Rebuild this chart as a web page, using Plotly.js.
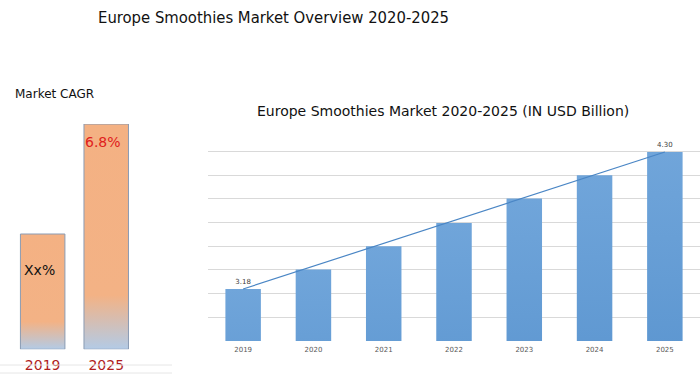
<!DOCTYPE html>
<html>
<head>
<meta charset="utf-8">
<script src="https://cdn.plot.ly/plotly-3.0.1.min.js"></script>
<style>
html,body{margin:0;padding:0;background:#fff;}
#chart{width:700px;height:376px;}
</style>
</head>
<body>
<div id="chart"></div>
<script>
// ---- data ----
const years = ['2019', '2020', '2021', '2022', '2023', '2024', '2025'];
const marketValues = [3.18, 3.34, 3.53, 3.72, 3.92, 4.11, 4.30];
const cagrYears = ['2019', '2025'];
const cagrValues = [3.48, 6.8];
const cagrLabels = ['Xx%', '6.8%'];
const cagrLabelColors = ['#111111', '#e0201c'];

const mainTitle = 'Europe Smoothies Market Overview 2020-2025';
const subTitle = 'Europe Smoothies Market 2020-2025 (IN USD Billion)';
const cagrTitle = 'Market CAGR';

const last = marketValues.length - 1;
const barLabels = marketValues.map((v, i) => (i === 0 || i === last) ? v.toFixed(2) : '');

const FONT = 'DejaVu Sans, Liberation Sans, sans-serif';
const NARROW = 'DejaVu Sans Condensed, DejaVu Sans, sans-serif';

const traces = [
  {
    type: 'bar', x: cagrYears, y: cagrValues, xaxis: 'x', yaxis: 'y',
    width: 0.7,
    marker: {color: '#f4b183', line: {color: '#8a9bb3', width: 1}},
    hoverinfo: 'skip', showlegend: false
  },
  {
    type: 'bar', x: years, y: marketValues, xaxis: 'x2', yaxis: 'y2',
    width: 0.505,
    marker: {color: '#5893d0', line: {width: 0}},
    text: barLabels, textposition: 'outside', cliponaxis: false,
    textfont: {family: FONT, size: 7, color: '#404040'},
    hoverinfo: 'skip', showlegend: false
  },
  {
    type: 'scatter', mode: 'lines', xaxis: 'x2', yaxis: 'y2',
    x: [years[0], years[last]], y: [marketValues[0], marketValues[last]],
    line: {color: '#4a86c5', width: 1.2},
    hoverinfo: 'skip', showlegend: false
  }
];

const yBase = 2.755;
const pxUnit = 0.008175;

const annotations = [
  {text: mainTitle, xref: 'paper', yref: 'paper', x: 273/700, y: 1 - 18/376,
   xanchor: 'center', yanchor: 'middle', showarrow: false,
   font: {family: NARROW, size: 16.5, color: '#111111'}},
  {text: subTitle, xref: 'paper', yref: 'paper', x: 443/700, y: 1 - 111/376,
   xanchor: 'center', yanchor: 'middle', showarrow: false,
   font: {family: FONT, size: 14, color: '#111111'}},
  {text: cagrTitle, xref: 'paper', yref: 'paper', x: 13/700, y: 1 - 94/376,
   xanchor: 'left', yanchor: 'middle', showarrow: false,
   font: {family: FONT, size: 12, color: '#111111'}},
];
cagrYears.forEach((yr, i) => {
  annotations.push({
    text: cagrLabels[i], xref: 'x', yref: 'y', x: i, y: cagrValues[i],
    xanchor: 'center', yanchor: 'top', yshift: i === 0 ? -26 : -8, xshift: -3,
    showarrow: false,
    font: {family: FONT, size: 14, color: cagrLabelColors[i]}
  });
});

const layout = {
  width: 700, height: 376,
  margin: {l: 0, r: 0, t: 0, b: 0},
  paper_bgcolor: '#ffffff', plot_bgcolor: 'rgba(0,0,0,0)',
  font: {family: FONT},
  xaxis: {domain: [10.9/700, 138/700], type: 'category', range: [-0.5, 1.5], autorange: false,
          showgrid: false, zeroline: false, ticklabelstandoff: 6,
          showline: false, ticks: '', tickfont: {family: FONT, size: 14, color: '#b01c1c'},
          anchor: 'y', fixedrange: true},
  yaxis: {domain: [1 - 349.3/376, 1 - 124/376], range: [0, 6.8], autorange: false, visible: false, fixedrange: true,
          anchor: 'x'},
  xaxis2: {domain: [208/700, 1], type: 'category', range: [-0.5, 6.5], autorange: false,
           showgrid: false, zeroline: false, ticklabelstandoff: 3,
           showline: false, ticks: '', tickfont: {family: FONT, size: 7, color: '#595959'},
           anchor: 'y2', fixedrange: true},
  yaxis2: {domain: [1 - 341/376, 1 - 128/376], range: [yBase, yBase + 213*pxUnit], autorange: false,
           tick0: yBase, dtick: 23.67*pxUnit, showgrid: true, gridcolor: '#d9d9d9', gridwidth: 1,
           showticklabels: false, zeroline: false, showline: false, ticks: '',
           anchor: 'x2', fixedrange: true},
  annotations: annotations,
  shapes: [
    {type: 'line', xref: 'paper', yref: 'paper', x0: 0, x1: 172/700, y0: 1 - 365/376, y1: 1 - 365/376,
     line: {color: '#e6e6e6', width: 1}},
    {type: 'line', xref: 'paper', yref: 'paper', x0: 0, x1: 172/700, y0: 1 - 373/376, y1: 1 - 373/376,
     line: {color: '#e6e6e6', width: 1}}
  ]
};

function addGradients(gd) {
  const svg = gd.querySelector('svg.main-svg');
  if (!svg) return;
  const ns = 'http://www.w3.org/2000/svg';
  let defs = svg.querySelector('defs');
  if (!defs) { defs = document.createElementNS(ns, 'defs'); svg.insertBefore(defs, svg.firstChild); }
  function grad(id, stops) {
    const g = document.createElementNS(ns, 'linearGradient');
    g.setAttribute('id', id);
    g.setAttribute('x1', '0'); g.setAttribute('y1', '0');
    g.setAttribute('x2', '0'); g.setAttribute('y2', '1');
    stops.forEach(([o, c]) => {
      const s = document.createElementNS(ns, 'stop');
      s.setAttribute('offset', o); s.setAttribute('stop-color', c);
      g.appendChild(s);
    });
    defs.appendChild(g);
  }
  grad('gradOrange', [[0, '#f4b183'], [0.76, '#f3b285'], [1, '#b3cbe6']]);
  grad('gradBlue', [[0, '#70a5da'], [1, '#3f80c2']]);
  gd.querySelectorAll('.subplot.xy .barlayer .point path').forEach(p => { p.style.fill = 'url(#gradOrange)'; });
  gd.querySelectorAll('.subplot.x2y2 .barlayer .point path').forEach(p => { p.style.fill = 'url(#gradBlue)'; });
}

Plotly.newPlot('chart', traces, layout, {displayModeBar: false, staticPlot: true})
  .then(gd => addGradients(gd));
</script>
</body>
</html>
